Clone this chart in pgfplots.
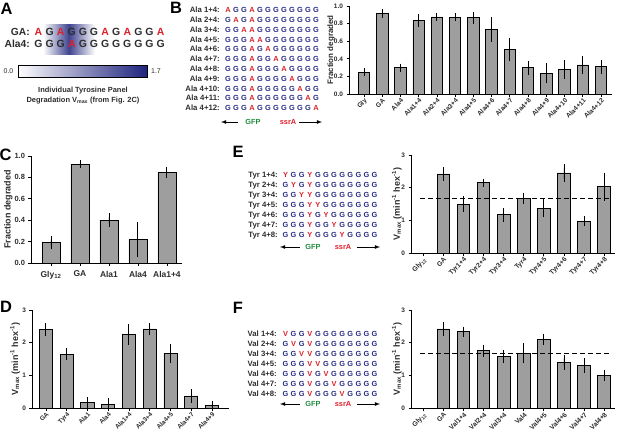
\documentclass[border=0pt]{standalone}
\usepackage{pgfplots}
\pgfplotsset{compat=1.18}
\usepackage{fontspec}
\setmainfont{Liberation Sans}
\definecolor{barg}{RGB}{158,158,158}
\definecolor{seqblue}{RGB}{40,44,130}
\definecolor{seqred}{RGB}{222,32,42}
\definecolor{gfpgreen}{RGB}{30,140,60}
\definecolor{txtgray}{RGB}{45,45,45}
\definecolor{navy}{RGB}{30,35,125}
\newcommand\seqrow[6]{%
  \edef\seqlist{#6}%
  \foreach \c [count=\i from 0] in \seqlist {%
    \edef\tmpc{\c}\def\tmpG{G}%
    \ifx\tmpc\tmpG\def\col{#4}\else\def\col{seqred}\fi
    \node[inner sep=0pt, font=#5, text=\col, anchor=mid] at ({#1+\i*#3},{#2}) {\c};
  }}
\newcommand\seqfont{\fontsize{7.4}{8}\selectfont\bfseries}
\newcommand\labfont{\fontsize{7.8}{8}\selectfont\bfseries}
\pgfplotsset{prism/.style={
  scale only axis, anchor=south west, clip=false,
  axis lines*=left, axis line style={line width=0.9bp, -},
  tick style={line width=0.8bp, black}, tick align=outside,
  major tick length=2.5bp, ymin=0,
  ticklabel style={font=\fontsize{6.5}{7}\selectfont\bfseries, text=txtgray},
  ylabel style={font=\fontsize{9}{10}\selectfont\bfseries, text=txtgray, anchor=center},
  /pgf/number format/assume math mode=true,
}, 
rotlabels/.style={xticklabel style={rotate=45, anchor=north east, inner sep=0.8bp, font=\fontsize{#1}{7}\selectfont\bfseries}},
barplot/.style={ybar, bar width=0.63, fill=barg, draw=black, line width=0.8bp,
  error bars/y dir=both, error bars/y explicit,
  error bars/error bar style={line width=0.9bp, black},
  error bars/error mark options={line width=0.9bp, black, mark size=3.5bp}},
onedec/.style={yticklabel style={/pgf/number format/fixed, /pgf/number format/fixed zerofill, /pgf/number format/precision=1}}
}
\begin{document}
\begin{tikzpicture}
\path[use as bounding box] (0,0) rectangle (617bp,-437bp);
\begin{scope}[x=1bp,y=-1bp]
% panel letters
\foreach \l/\x/\y in {A/6.5/8.5, B/176/8, C/5.5/155, E/238/152, D/6/307, F/238/308}
  \node[font=\fontsize{16.5}{17}\selectfont\bfseries, inner sep=0pt] at (\x,\y) {\l};
% Panel A
\shade[left color=white, right color=white, middle color=navy!85] (43,24) rectangle (95,54);
\node[font=\fontsize{10.3}{11}\selectfont\bfseries, text=txtgray, anchor=mid east, inner sep=0pt] at (30,33) {GA:};
\node[font=\fontsize{10.3}{11}\selectfont\bfseries, text=txtgray, anchor=mid east, inner sep=0pt] at (30,44.5) {Ala4:};
\seqrow{38.5}{33}{11.1}{txtgray}{\fontsize{10.5}{11}\selectfont\bfseries}{A,G,A,G,G,G,A,G,A,G,G,A}
\seqrow{38.5}{44.5}{11.1}{txtgray}{\fontsize{10.5}{11}\selectfont\bfseries}{G,G,G,A,G,G,G,G,G,G,G,G}
\shade[left color=white, right color=navy] (18,65) rectangle (147,77);
\draw[line width=0.6bp] (18,65) rectangle (147,77);
\node[font=\fontsize{7}{7}\selectfont, text=txtgray] at (8.5,71) {0.0};
\node[font=\fontsize{7}{7}\selectfont, text=txtgray] at (156,71) {1.7};
\node[font=\fontsize{7.5}{8}\selectfont\bfseries, text=txtgray] at (83,91) {Individual Tyrosine Panel};
\node[font=\fontsize{7.5}{8}\selectfont\bfseries, text=txtgray] at (83,101) {Degradation V\textsubscript{max} (from Fig. 2C)};
% Panel B sequences
\foreach \lab/\s [count=\k from 0] in {
 Ala 1+4:/{A,G,G,A,G,G,G,G,G,G,G,G},
 Ala 2+4:/{G,A,G,A,G,G,G,G,G,G,G,G},
 Ala 3+4:/{G,G,A,A,G,G,G,G,G,G,G,G},
 Ala 4+5:/{G,G,G,A,A,G,G,G,G,G,G,G},
 Ala 4+6:/{G,G,G,A,G,A,G,G,G,G,G,G},
 Ala 4+7:/{G,G,G,A,G,G,A,G,G,G,G,G},
 Ala 4+8:/{G,G,G,A,G,G,G,A,G,G,G,G},
 Ala 4+9:/{G,G,G,A,G,G,G,G,A,G,G,G},
 Ala 4+10:/{G,G,G,A,G,G,G,G,G,A,G,G},
 Ala 4+11:/{G,G,G,A,G,G,G,G,G,G,A,G},
 Ala 4+12:/{G,G,G,A,G,G,G,G,G,G,G,A}} {
  \node[font=\labfont, text=txtgray, anchor=mid east, inner sep=0pt] at (220,{10+\k*9.8}) {\lab};
  \seqrow{228}{10+\k*9.8}{8}{seqblue}{\seqfont}{\s}
}
\draw[-latex, line width=0.8bp] (238,122) -- (221,122);
\node[font=\seqfont, text=gfpgreen] at (253,122) {GFP};
\node[font=\seqfont, text=seqred] at (288,122) {ssrA};
\draw[-latex, line width=0.8bp] (299,122) -- (322,122);
% Panel E sequences
\foreach \lab/\s [count=\k from 0] in {
 Tyr 1+4:/{Y,G,G,Y,G,G,G,G,G,G,G,G},
 Tyr 2+4:/{G,Y,G,Y,G,G,G,G,G,G,G,G},
 Tyr 3+4:/{G,G,Y,Y,G,G,G,G,G,G,G,G},
 Tyr 4+5:/{G,G,G,Y,Y,G,G,G,G,G,G,G},
 Tyr 4+6:/{G,G,G,Y,G,Y,G,G,G,G,G,G},
 Tyr 4+7:/{G,G,G,Y,G,G,Y,G,G,G,G,G},
 Tyr 4+8:/{G,G,G,Y,G,G,G,Y,G,G,G,G}} {
  \node[font=\labfont, text=txtgray, anchor=mid east, inner sep=0pt] at (278,{175+\k*10}) {\lab};
  \seqrow{285.5}{175+\k*10}{8.1}{seqblue}{\seqfont}{\s}
}
\draw[-latex, line width=0.8bp] (300,247) -- (280,247);
\node[font=\seqfont, text=gfpgreen] at (313,247) {GFP};
\node[font=\seqfont, text=seqred] at (343,247) {ssrA};
\draw[-latex, line width=0.8bp] (357,247) -- (380,247);
% Panel F sequences
\foreach \lab/\s [count=\k from 0] in {
 Val 1+4:/{V,G,G,V,G,G,G,G,G,G,G,G},
 Val 2+4:/{G,V,G,V,G,G,G,G,G,G,G,G},
 Val 3+4:/{G,G,V,V,G,G,G,G,G,G,G,G},
 Val 4+5:/{G,G,G,V,V,G,G,G,G,G,G,G},
 Val 4+6:/{G,G,G,V,G,V,G,G,G,G,G,G},
 Val 4+7:/{G,G,G,V,G,G,V,G,G,G,G,G},
 Val 4+8:/{G,G,G,V,G,G,G,V,G,G,G,G}} {
  \node[font=\labfont, text=txtgray, anchor=mid east, inner sep=0pt] at (277,{334+\k*9.9}) {\lab};
  \seqrow{285.5}{334+\k*9.9}{8.1}{seqblue}{\seqfont}{\s}
}
\draw[-latex, line width=0.8bp] (300,404) -- (280,404);
\node[font=\seqfont, text=gfpgreen] at (313,404) {GFP};
\node[font=\seqfont, text=seqred] at (343,404) {ssrA};
\draw[-latex, line width=0.8bp] (357,404) -- (380,404);
\end{scope}

% Panel B chart
\begin{axis}[prism, rotlabels=6.6, onedec, at={(349bp,-94bp)}, width=263bp, height=88bp,
  xmin=-0.82, xmax=13.6, ymax=1, ytick={0,0.2,0.4,0.6,0.8,1.0},
  xtick={0,...,13},
  xticklabels={Gly,GA,Ala4,Ala1+4,Ala2+4,Ala3+4,Ala4+5,Ala4+6,Ala4+7,Ala4+8,Ala4+9,Ala4+10,Ala4+11,Ala4+12},
  ylabel={Fraction degraded}, ylabel style={font=\fontsize{8}{9}\selectfont\bfseries, at={(axis description cs:-0.068,0.5)}}]
\addplot[barplot] coordinates {
 (0,0.245) +- (0,0.005)
 (1,0.915) +- (0,0.012)
 (2,0.300) +- (0,0.006)
 (3,0.835) +- (0,0.035)
 (4,0.875) +- (0,0.005)
 (5,0.870) +- (0,0.005)
 (6,0.865) +- (0,0.025)
 (7,0.735) +- (0,0.100)
 (8,0.505) +- (0,0.095)
 (9,0.300) +- (0,0.040)
 (10,0.235) +- (0,0.075)
 (11,0.280) +- (0,0.070)
 (12,0.330) +- (0,0.065)
 (13,0.310) +- (0,0.042)};
\end{axis}

% Panel C chart
\begin{axis}[prism, onedec, at={(31bp,-263bp)}, width=151bp, height=107bp,
  xmin=-0.69, xmax=4.52, ymax=1, ytick={0,0.2,0.4,0.6,0.8,1.0},
  xtick={0,...,4}, xticklabel style={anchor=north, font=\fontsize{8.5}{9}\selectfont\bfseries, yshift=-2bp},
  xticklabels={Gly\textsubscript{12},GA,Ala1,Ala4,Ala1+4},
  yticklabel style={font=\fontsize{7.5}{8}\selectfont\bfseries},
  ylabel={Fraction degraded}, ylabel style={font=\fontsize{9}{10}\selectfont\bfseries, at={(axis description cs:-0.15,0.5)}}]
\addplot[barplot, bar width=0.62] coordinates {
 (0,0.19) +- (0,0.03)
 (1,0.925) +- (0,0.005)
 (2,0.40) +- (0,0.03)
 (3,0.22) +- (0,0.13)
 (4,0.845) +- (0,0.02)};
\end{axis}

% Panel D chart
\begin{axis}[prism, rotlabels=6.4, at={(32bp,-408bp)}, width=197bp, height=98bp,
  xmin=-0.67, xmax=8.82, ymax=3, ytick={0,1,2,3},
  xtick={0,...,8},
  xticklabels={GA,Tyr4,Ala1,Ala4,Ala1+4,Ala3+4,Ala4+5,Ala4+7,Ala4+9},
  ylabel={V\textsubscript{max} (min\textsuperscript{-1} hex\textsuperscript{-1})},
  ylabel style={at={(axis description cs:-0.086,0.5)}}]
\addplot[barplot] coordinates {
 (0,2.40) +- (0,0.10)
 (1,1.65) +- (0,0.07)
 (2,0.17) +- (0,0.05)
 (3,0.12) +- (0,0.07)
 (4,2.25) +- (0,0.21)
 (5,2.42) +- (0,0.08)
 (6,1.67) +- (0,0.18)
 (7,0.37) +- (0,0.10)
 (8,0.08) +- (0,0.04)};
\end{axis}

% Panel E chart
\begin{axis}[prism, rotlabels=6.8, at={(411bp,-253bp)}, width=204bp, height=98bp,
  xmin=-0.61, xmax=9.54, ymax=3, ytick={0,1,2,3},
  xtick={0,...,9},
  xticklabels={Gly\textsubscript{12},GA,Tyr1+4,Tyr2+4,Tyr3+4,Tyr4,Tyr4+5,Tyr4+6,Tyr4+7,Tyr4+8},
  ylabel={V\textsubscript{max} (min\textsuperscript{-1} hex\textsuperscript{-1})},
  ylabel style={at={(axis description cs:-0.069,0.5)}}]
\addplot[barplot] coordinates {
 (1,2.42) +- (0,0.10)
 (2,1.50) +- (0,0.13)
 (3,2.15) +- (0,0.02)
 (4,1.17) +- (0,0.10)
 (5,1.67) +- (0,0.07)
 (6,1.37) +- (0,0.17)
 (7,2.45) +- (0,0.17)
 (8,0.97) +- (0,0.05)
 (9,2.03) +- (0,0.32)};
\addplot[black, line width=1.3bp, dash pattern=on 5bp off 3bp] coordinates {(-0.16,1.67) (9.39,1.67)};
\end{axis}

% Panel F chart
\begin{axis}[prism, rotlabels=6.8, at={(411bp,-408bp)}, width=204bp, height=98bp,
  xmin=-0.61, xmax=9.54, ymax=3, ytick={0,1,2,3},
  xtick={0,...,9},
  xticklabels={Gly\textsubscript{12},GA,Val1+4,Val2+4,Val3+4,Val4,Val4+5,Val4+6,Val4+7,Val4+8},
  ylabel={V\textsubscript{max} (min\textsuperscript{-1} hex\textsuperscript{-1})},
  ylabel style={at={(axis description cs:-0.069,0.5)}}]
\addplot[barplot] coordinates {
 (1,2.42) +- (0,0.10)
 (2,2.33) +- (0,0.05)
 (3,1.75) +- (0,0.08)
 (4,1.57) +- (0,0.10)
 (5,1.67) +- (0,0.20)
 (6,2.10) +- (0,0.07)
 (7,1.40) +- (0,0.12)
 (8,1.30) +- (0,0.12)
 (9,1.00) +- (0,0.07)};
\addplot[black, line width=1.3bp, dash pattern=on 5bp off 3bp] coordinates {(-0.16,1.67) (9.39,1.67)};
\end{axis}
\end{tikzpicture}
\end{document}
